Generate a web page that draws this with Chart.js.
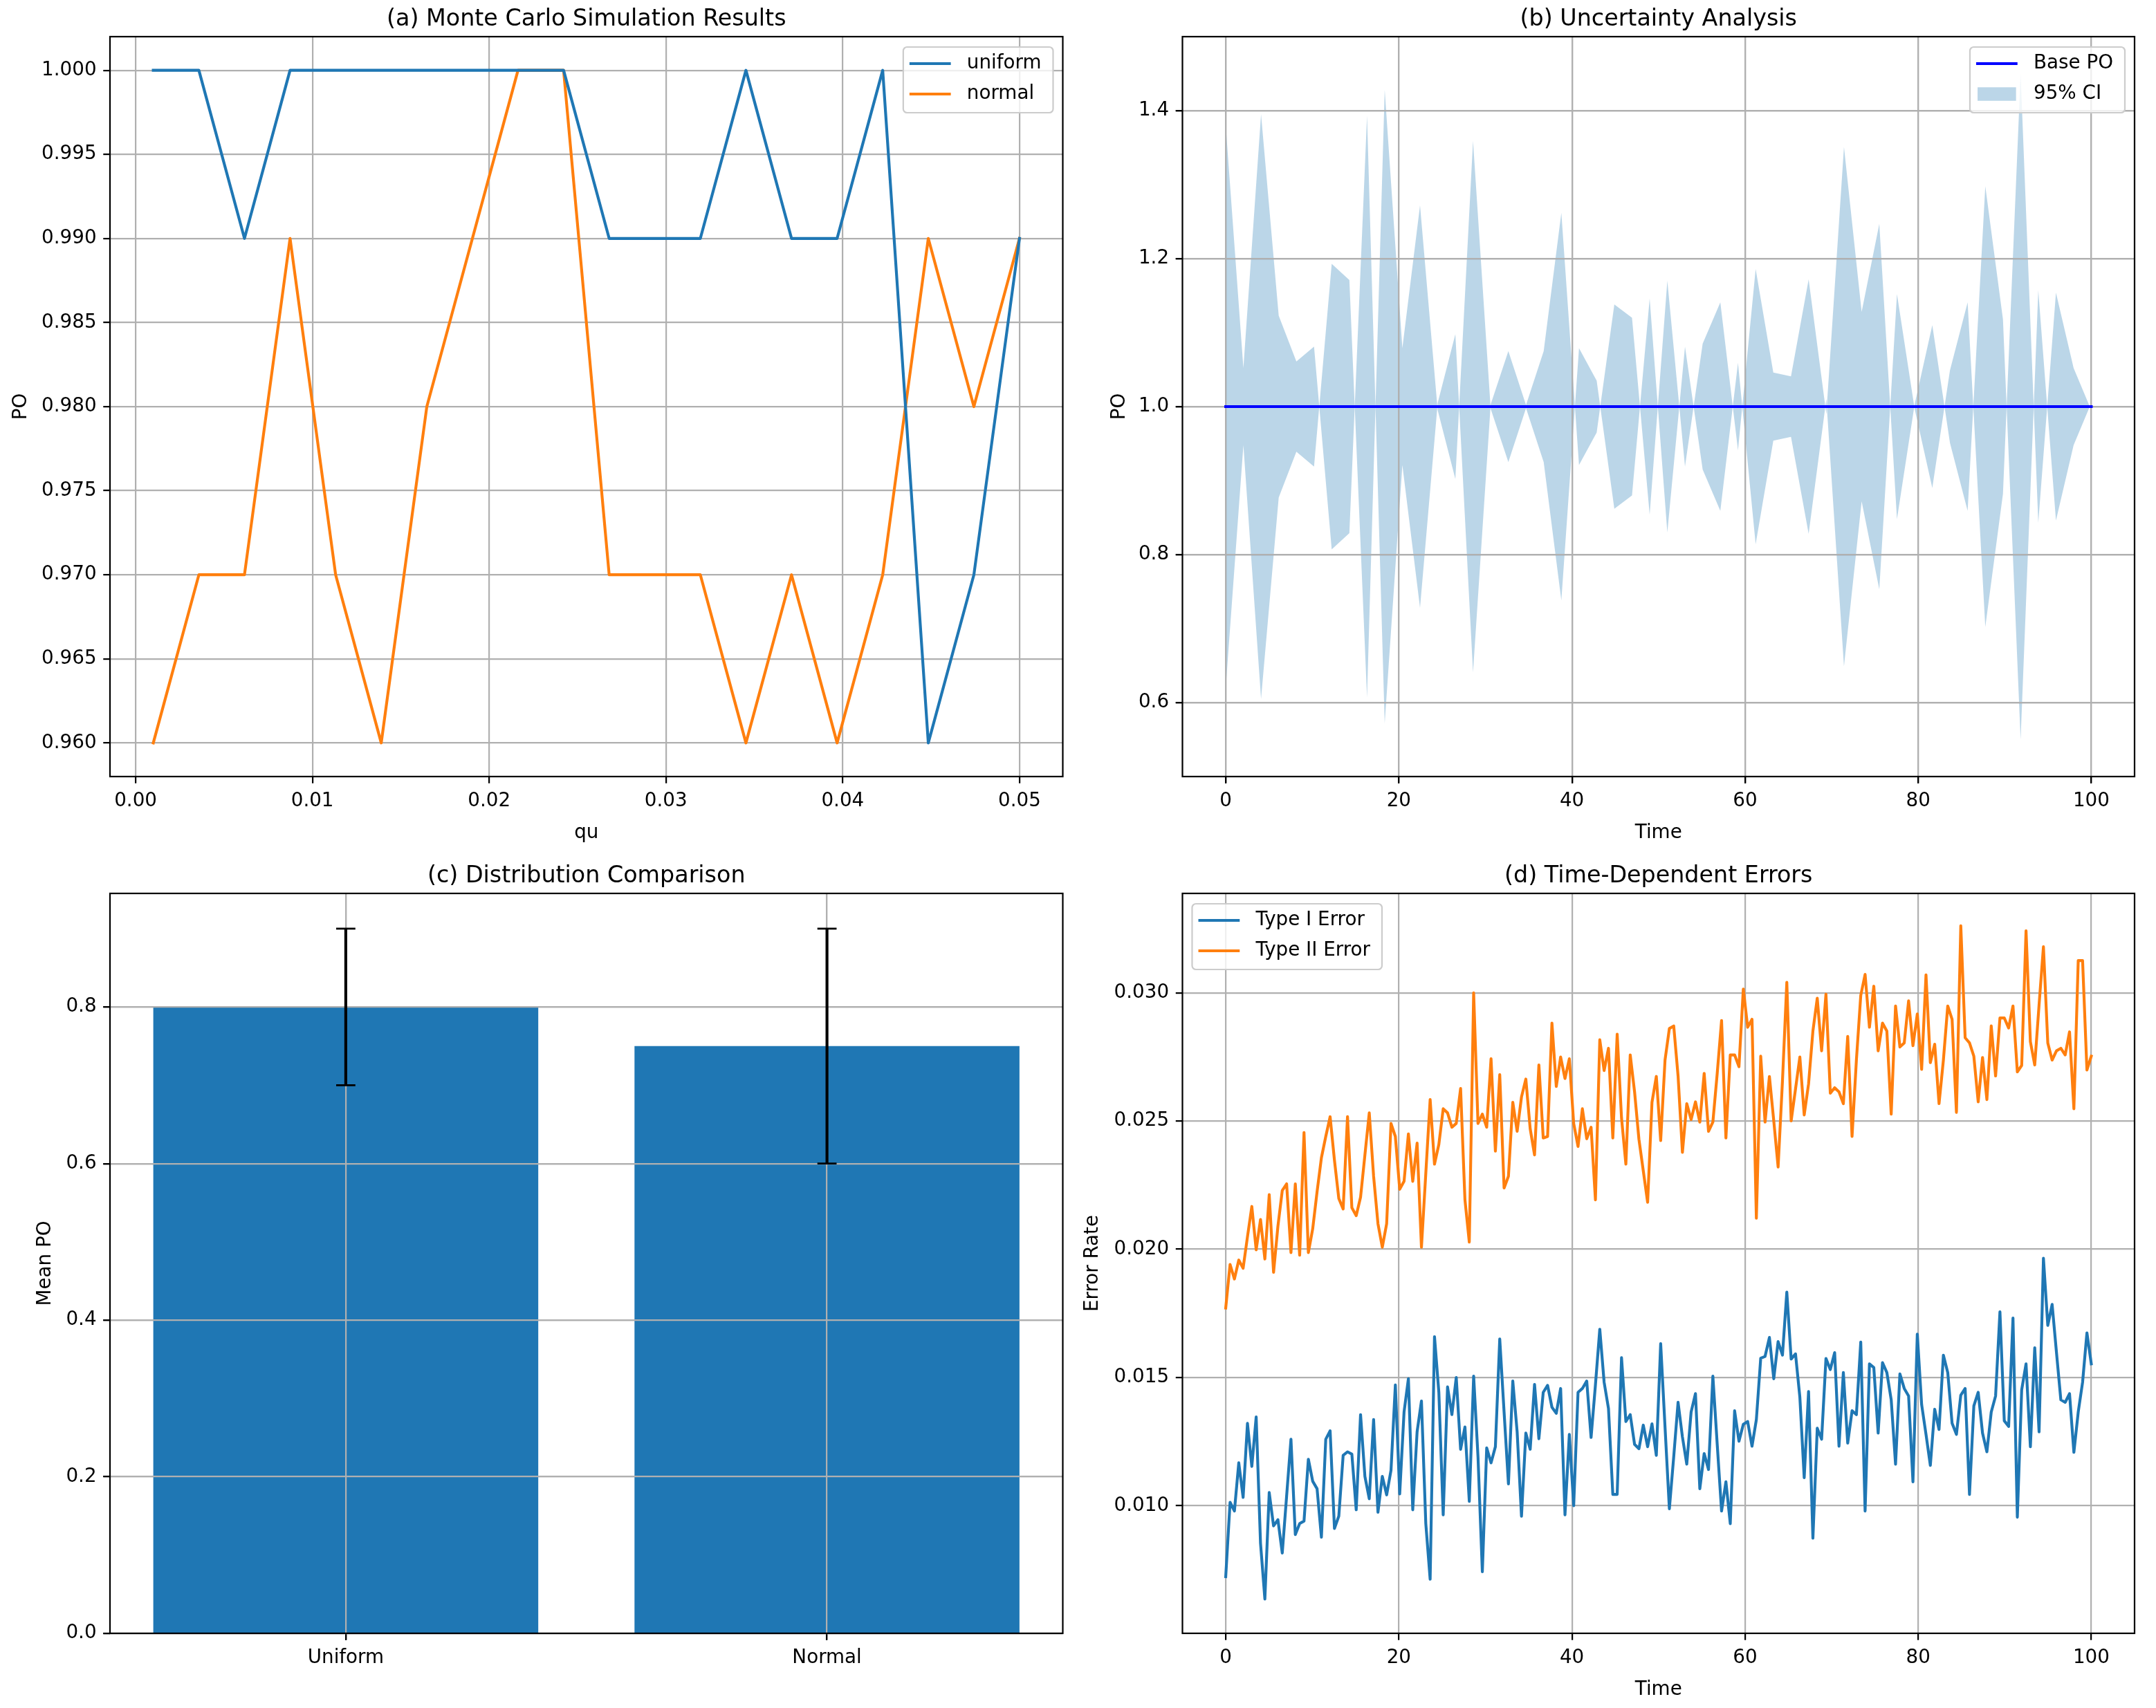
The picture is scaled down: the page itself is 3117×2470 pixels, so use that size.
<!DOCTYPE html>
<html>
<head>
<meta charset="utf-8">
<script src="https://cdn.jsdelivr.net/npm/chart.js@4.4.1/dist/chart.umd.min.js"></script>
<style>
html,body{margin:0;padding:0;background:#fff;}
#fig{position:relative;width:3117px;height:2470px;overflow:hidden;background:#fff;}
canvas{position:absolute;}
</style>
</head>
<body>
<div id="fig">
<canvas id="ca"></canvas>
<canvas id="cb"></canvas>
<canvas id="cc"></canvas>
<canvas id="cd"></canvas>
</div>
<script>
// ---------------- DATA ----------------
// (a) Monte Carlo Simulation Results
const aQu = [0.001, 0.003579, 0.006158, 0.008737, 0.011316, 0.013895, 0.016474, 0.019053, 0.021632, 0.024211,
             0.026789, 0.029368, 0.031947, 0.034526, 0.037105, 0.039684, 0.042263, 0.044842, 0.047421, 0.05];
const aUniform = [1.0, 1.0, 0.99, 1.0, 1.0, 1.0, 1.0, 1.0, 1.0, 1.0, 0.99, 0.99, 0.99, 1.0, 0.99, 0.99, 1.0, 0.96, 0.97, 0.99];
const aNormal  = [0.96, 0.97, 0.97, 0.99, 0.97, 0.96, 0.98, 0.99, 1.0, 1.0, 0.97, 0.97, 0.97, 0.96, 0.97, 0.96, 0.97, 0.99, 0.98, 0.99];
const aXTicks = [0, 0.01, 0.02, 0.03, 0.04, 0.05];
const aXTickLabels = ['0.00', '0.01', '0.02', '0.03', '0.04', '0.05'];
const aYTicks = [0.960, 0.965, 0.970, 0.975, 0.980, 0.985, 0.990, 0.995, 1.000];
const aYTickLabels = ['0.960', '0.965', '0.970', '0.975', '0.980', '0.985', '0.990', '0.995', '1.000'];

// (b) Uncertainty Analysis (50 time points, 0..100)
const bBase = [1.0,1.0,1.0,1.0,1.0,1.0,1.0,1.0,1.0,1.0, 1.0,1.0,1.0,1.0,1.0,1.0,1.0,1.0,1.0,1.0,
               1.0,1.0,1.0,1.0,1.0,1.0,1.0,1.0,1.0,1.0, 1.0,1.0,1.0,1.0,1.0,1.0,1.0,1.0,1.0,1.0,
               1.0,1.0,1.0,1.0,1.0,1.0,1.0,1.0,1.0,1.0];
const bUpper = [1.380,1.052,1.395,1.123,1.061,1.081,0.807,0.829,1.393,0.572,
                0.921,0.728,1.005,1.098,0.641,1.003,1.075,1.002,1.075,1.262,
                0.921,0.965,1.138,1.120,0.854,1.170,0.919,1.085,1.141,0.941,
                1.186,1.046,1.041,1.172,0.990,1.351,1.128,1.247,0.848,1.003,
                1.110,0.951,0.859,1.298,1.118,0.550,1.157,0.846,0.948,1.005];
const bLower = [0.620,0.948,0.605,0.877,0.939,0.919,1.193,1.171,0.607,1.428,
                1.079,1.272,0.995,0.902,1.359,0.997,0.925,0.998,0.925,0.738,
                1.079,1.035,0.862,0.880,1.146,0.830,1.081,0.915,0.859,1.059,
                0.814,0.954,0.959,0.828,1.010,0.649,0.872,0.753,1.152,0.997,
                0.890,1.049,1.141,0.702,0.882,1.450,0.843,1.154,1.052,0.995];
const bXTicks = [0, 20, 40, 60, 80, 100];
const bXTickLabels = ['0', '20', '40', '60', '80', '100'];
const bYTicks = [0.6, 0.8, 1.0, 1.2, 1.4];
const bYTickLabels = ['0.6', '0.8', '1.0', '1.2', '1.4'];

// (c) Distribution Comparison
const cCategories = ['Uniform', 'Normal'];
const cPositions = [0, 1];
const cMeans = [0.80, 0.75];
const cErrors = [0.10, 0.15];
const cYTicks = [0.0, 0.2, 0.4, 0.6, 0.8];
const cYTickLabels = ['0.0', '0.2', '0.4', '0.6', '0.8'];

// (d) Time-Dependent Errors (200 time points, 0..100)
const dType1 = [
 0.00723,0.01013,0.00979,0.01167,0.01032,0.01321,0.01153,0.01346,0.00853,0.00636,
 0.01051,0.00921,0.00945,0.00815,0.01037,0.01259,0.00887,0.00930,0.00940,0.01181,
 0.01095,0.01066,0.00877,0.01259,0.01292,0.00911,0.00959,0.01196,0.01210,0.01201,
 0.00984,0.01355,0.01114,0.01027,0.01336,0.00974,0.01114,0.01042,0.01138,0.01471,
 0.01046,0.01365,0.01495,0.00984,0.01288,0.01408,0.00930,0.00713,0.01659,0.01442,
 0.00964,0.01463,0.01355,0.01500,0.01220,0.01307,0.01017,0.01505,0.01191,0.00742,
 0.01225,0.01167,0.01230,0.01650,0.01365,0.01085,0.01486,0.01288,0.00959,0.01283,
 0.01220,0.01473,0.01261,0.01442,0.01469,0.01384,0.01360,0.01457,0.00964,0.01278,
 0.01000,0.01442,0.01457,0.01486,0.01266,0.01471,0.01688,0.01481,0.01379,0.01044,
 0.01044,0.01577,0.01328,0.01355,0.01239,0.01222,0.01314,0.01230,0.01319,0.01196,
 0.01632,0.01307,0.00988,0.01191,0.01403,0.01268,0.01162,0.01365,0.01437,0.01066,
 0.01203,0.01141,0.01505,0.01239,0.00979,0.01093,0.00930,0.01370,0.01251,0.01317,
 0.01328,0.01232,0.01336,0.01575,0.01582,0.01656,0.01495,0.01640,0.01587,0.01833,
 0.01572,0.01592,0.01423,0.01109,0.01445,0.00873,0.01302,0.01259,0.01574,0.01531,
 0.01597,0.01232,0.01519,0.01244,0.01370,0.01355,0.01638,0.00979,0.01553,0.01539,
 0.01283,0.01558,0.01519,0.01413,0.01162,0.01514,0.01457,0.01428,0.01093,0.01669,
 0.01394,0.01278,0.01157,0.01376,0.01297,0.01587,0.01519,0.01321,0.01278,0.01431,
 0.01457,0.01044,0.01389,0.01442,0.01283,0.01210,0.01365,0.01428,0.01756,0.01331,
 0.01309,0.01732,0.00955,0.01452,0.01553,0.01230,0.01616,0.01288,0.01965,0.01703,
 0.01785,0.01597,0.01413,0.01403,0.01437,0.01208,0.01365,0.01481,0.01674,0.01553];
const dType2 = [
 0.01771,0.01941,0.01884,0.01958,0.01926,0.02049,0.02167,0.01998,0.02116,0.01962,
 0.02213,0.01910,0.02090,0.02229,0.02255,0.01987,0.02255,0.01977,0.02455,0.01987,
 0.02080,0.02224,0.02357,0.02440,0.02517,0.02347,0.02198,0.02157,0.02517,0.02162,
 0.02131,0.02203,0.02368,0.02532,0.02285,0.02100,0.02008,0.02100,0.02491,0.02440,
 0.02234,0.02265,0.02450,0.02265,0.02414,0.02008,0.02296,0.02584,0.02332,0.02409,
 0.02548,0.02532,0.02476,0.02491,0.02627,0.02193,0.02028,0.03000,0.02491,0.02527,
 0.02476,0.02743,0.02383,0.02681,0.02239,0.02285,0.02573,0.02460,0.02594,0.02664,
 0.02470,0.02368,0.02719,0.02434,0.02440,0.02882,0.02635,0.02750,0.02666,0.02743,
 0.02491,0.02401,0.02548,0.02431,0.02476,0.02193,0.02817,0.02697,0.02784,0.02434,
 0.02839,0.02512,0.02332,0.02758,0.02614,0.02429,0.02306,0.02183,0.02573,0.02674,
 0.02424,0.02738,0.02861,0.02871,0.02676,0.02378,0.02568,0.02506,0.02575,0.02496,
 0.02686,0.02460,0.02496,0.02686,0.02892,0.02434,0.02758,0.02758,0.02712,0.03015,
 0.02866,0.02897,0.02121,0.02753,0.02496,0.02674,0.02501,0.02321,0.02656,0.03041,
 0.02501,0.02625,0.02750,0.02524,0.02645,0.02851,0.02979,0.02774,0.02995,0.02609,
 0.02630,0.02614,0.02568,0.02830,0.02440,0.02738,0.02990,0.03072,0.02866,0.03026,
 0.02774,0.02882,0.02851,0.02527,0.02949,0.02789,0.02805,0.02969,0.02794,0.02918,
 0.02702,0.03070,0.02728,0.02800,0.02568,0.02738,0.02949,0.02897,0.02534,0.03262,
 0.02825,0.02805,0.02753,0.02575,0.02748,0.02584,0.02871,0.02676,0.02902,0.02902,
 0.02863,0.02949,0.02692,0.02717,0.03242,0.02810,0.02719,0.02954,0.03180,0.02805,
 0.02738,0.02774,0.02784,0.02758,0.02848,0.02548,0.03126,0.03126,0.02699,0.02753];
const dXTicks = [0, 20, 40, 60, 80, 100];
const dXTickLabels = ['0', '20', '40', '60', '80', '100'];
const dYTicks = [0.010, 0.015, 0.020, 0.025, 0.030];
const dYTickLabels = ['0.010', '0.015', '0.020', '0.025', '0.030'];

// time axes (evenly spaced sample grid, like np.linspace)
function linspace(a, b, n) { const out = []; for (let i = 0; i < n; i++) out.push(a + (b - a) * i / (n - 1)); return out; }
const tB = linspace(0, 100, bUpper.length);
const tD = linspace(0, 100, dType1.length);

// ---------------- STYLE ----------------
const C0 = '#1f77b4', C1 = '#ff7f0e';
const FONT = 'DejaVu Sans';
const PT = 200 / 72;
const FS = 10 * PT, TFS = 12 * PT;

Chart.defaults.font.family = FONT;
Chart.defaults.font.size = FS;
Chart.defaults.color = '#000';
Chart.defaults.animation = false;

function pickLabel(vals, labels) {
  return function (value) {
    for (let i = 0; i < vals.length; i++) if (Math.abs(vals[i] - value) < 1e-9) return labels[i];
    return '';
  };
}

function scaleOpts(o) {
  const s = {
    type: 'linear', min: o.min, max: o.max, bounds: 'data', offset: false,
    afterBuildTicks: (sc) => { sc.ticks = o.tickVals.map(v => ({ value: v })); },
    afterFit: (sc) => { if (o.horizontal) sc.height = o.size; else sc.width = o.size; },
    grid: { color: '#b0b0b0', lineWidth: 0.8 * PT, offset: false, drawTicks: true, tickLength: 3.5 * PT, tickColor: '#000', tickWidth: 0.8 * PT },
    border: { display: false },
    ticks: { color: '#000', font: { family: FONT, size: FS, lineHeight: 1.2 }, padding: 3.5 * PT, autoSkip: false, maxRotation: 0, minRotation: 0, callback: pickLabel(o.tickVals, o.tickLabels) }
  };
  if (o.title) {
    s.title = { display: true, text: o.title, color: '#000', font: { family: FONT, size: FS, lineHeight: '33.4px' },
      padding: o.horizontal ? { top: 0, bottom: o.titlePad } : { top: o.titlePad, bottom: 0 } };
  }
  return s;
}

function titleOpts(text) {
  return { display: true, text: text, color: '#000', fullSize: false,
    font: { family: FONT, size: TFS, weight: 'normal', lineHeight: '47.6px' }, padding: { top: 4.5, bottom: 0.9 } };
}

function roundRectPath(ctx, x, y, w, h, r) {
  ctx.beginPath();
  ctx.moveTo(x + r, y);
  ctx.lineTo(x + w - r, y); ctx.arcTo(x + w, y, x + w, y + r, r);
  ctx.lineTo(x + w, y + h - r); ctx.arcTo(x + w, y + h, x + w - r, y + h, r);
  ctx.lineTo(x + r, y + h); ctx.arcTo(x, y + h, x, y + h - r, r);
  ctx.lineTo(x, y + r); ctx.arcTo(x, y, x + r, y, r);
  ctx.closePath();
}

function drawLegend(chart, items, corner) {
  const ctx = chart.ctx, a = chart.chartArea;
  ctx.save();
  ctx.font = FS + 'px "' + FONT + '"';
  let tw = 0;
  items.forEach(it => { tw = Math.max(tw, ctx.measureText(it.label).width); });
  const w = 92 + tw + 17, h = 95;
  const x = corner === 'left' ? a.left + 14 : a.right - 14 - w;
  const y = a.top + 15;
  roundRectPath(ctx, x, y, w, h, 0.2 * FS);
  ctx.fillStyle = 'rgba(255,255,255,0.8)';
  ctx.fill();
  ctx.strokeStyle = '#cccccc';
  ctx.lineWidth = 1.0 * PT * 0.8;
  ctx.stroke();
  items.forEach((it, k) => {
    const cy = y + 24 + 44 * k;
    if (it.type === 'patch') {
      ctx.fillStyle = it.color;
      ctx.fillRect(x + 11.1, cy - 9.75, 55.6, 19.5);
    } else {
      ctx.strokeStyle = it.color; ctx.lineWidth = it.lw; ctx.lineCap = 'square';
      ctx.beginPath(); ctx.moveTo(x + 11.1, cy); ctx.lineTo(x + 66.7, cy); ctx.stroke();
    }
    ctx.fillStyle = '#000'; ctx.textBaseline = 'middle'; ctx.textAlign = 'left';
    ctx.fillText(it.label, x + 92, cy);
  });
  ctx.restore();
}

function framePlugin(cfg) {
  return {
    id: 'frame',
    afterDatasetDraw(chart, args) {
      if (cfg.gridAfter === args.index) {
        chart.scales.x.drawGrid(chart.chartArea);
        chart.scales.y.drawGrid(chart.chartArea);
      }
    },
    afterDatasetsDraw(chart) {
      if (cfg.extra) cfg.extra(chart);
      const ctx = chart.ctx, a = chart.chartArea;
      ctx.save(); ctx.strokeStyle = '#000'; ctx.lineWidth = 0.8 * PT;
      ctx.strokeRect(a.left, a.top, a.right - a.left, a.bottom - a.top);
      ctx.restore();
      if (cfg.legend) drawLegend(chart, cfg.legend(chart), cfg.corner);
    }
  };
}

function placeCanvas(id, left, top, w, h) {
  const c = document.getElementById(id);
  c.width = w; c.height = h;
  c.style.left = left + 'px'; c.style.top = top + 'px';
  c.style.width = w + 'px'; c.style.height = h + 'px';
  return c;
}

function pts(xs, ys) { return xs.map((x, i) => ({ x: x, y: ys[i] })); }

const LW = 1.5 * PT;
const baseOpts = (pad) => ({
  responsive: false, maintainAspectRatio: false, devicePixelRatio: 1, animation: false,
  layout: { padding: { left: 0, top: 0, bottom: 0, right: pad } },
  events: []
});
const lineDs = (label, data, color, lw) => ({ label, data, borderColor: color, borderWidth: lw, pointRadius: 0,
  fill: false, tension: 0, borderJoinStyle: 'round', borderCapStyle: 'square' });
const legendFromDatasets = (chart) => chart.data.datasets.filter(d => d.label).map(d => (
  d.fill && d.fill !== false ? { label: d.label, type: 'patch', color: d.backgroundColor } :
  { label: d.label, type: 'line', color: d.borderColor, lw: d.borderWidth }));

// ---------------- (a) ----------------
new Chart(placeCanvas('ca', 0, 0, 1600, 1260), {
  type: 'line',
  data: { datasets: [ lineDs('uniform', pts(aQu, aUniform), C0, LW), lineDs('normal', pts(aQu, aNormal), C1, LW) ] },
  options: Object.assign(baseOpts(63.5), {
    plugins: { legend: { display: false }, tooltip: { enabled: false }, title: titleOpts('(a) Monte Carlo Simulation Results') },
    scales: {
      x: scaleOpts({ min: -0.00145, max: 0.05245, tickVals: aXTicks, tickLabels: aXTickLabels, horizontal: true, size: 137, title: 'qu', titlePad: 38.3 }),
      y: scaleOpts({ min: 0.958, max: 1.002, tickVals: aYTicks, tickLabels: aYTickLabels, horizontal: false, size: 159, title: 'PO', titlePad: 14 })
    }
  }),
  plugins: [ framePlugin({ legend: legendFromDatasets, corner: 'right' }) ]
});

// ---------------- (b) ----------------
new Chart(placeCanvas('cb', 1560, 0, 1557, 1260), {
  type: 'line',
  data: { datasets: [
    Object.assign(lineDs('Base PO', pts(tB, bBase), '#0000ff', LW), { order: 0 }),
    { label: '95% CI', data: pts(tB, bUpper), borderColor: 'rgba(0,0,0,0)', borderWidth: 0.01, pointRadius: 0, tension: 0,
      backgroundColor: 'rgba(31,119,180,0.3)', fill: { target: 2 }, order: 1 },
    { label: '', data: pts(tB, bLower), borderColor: 'rgba(0,0,0,0)', borderWidth: 0.01, pointRadius: 0, tension: 0, fill: false, order: 2 }
  ] },
  options: Object.assign(baseOpts(31), {
    plugins: { legend: { display: false }, tooltip: { enabled: false }, title: titleOpts('(b) Uncertainty Analysis') },
    scales: {
      x: scaleOpts({ min: -5, max: 105, tickVals: bXTicks, tickLabels: bXTickLabels, horizontal: true, size: 137, title: 'Time', titlePad: 38.3 }),
      y: scaleOpts({ min: 0.5, max: 1.5, tickVals: bYTicks, tickLabels: bYTickLabels, horizontal: false, size: 149.5, title: 'PO', titlePad: 42.3 })
    }
  }),
  plugins: [ framePlugin({ gridAfter: 1, legend: legendFromDatasets, corner: 'right' }) ]
});

// ---------------- (c) ----------------
new Chart(placeCanvas('cc', 0, 1239, 1600, 1231), {
  type: 'bar',
  data: { datasets: [ { label: 'Mean PO', data: pts(cPositions, cMeans), backgroundColor: C0, borderWidth: 0,
    barPercentage: 0.8, categoryPercentage: 1.0 } ] },
  options: Object.assign(baseOpts(63.5), {
    plugins: { legend: { display: false }, tooltip: { enabled: false }, title: titleOpts('(c) Distribution Comparison') },
    scales: {
      x: scaleOpts({ min: -0.49, max: 1.49, tickVals: cPositions, tickLabels: cCategories, horizontal: true, size: 108 }),
      y: scaleOpts({ min: 0, max: 0.945, tickVals: cYTicks, tickLabels: cYTickLabels, horizontal: false, size: 159, title: 'Mean PO', titlePad: 49 })
    }
  }),
  plugins: [ framePlugin({ gridAfter: 0, extra: (chart) => {
    const ctx = chart.ctx, xs = chart.scales.x, ys = chart.scales.y;
    ctx.save(); ctx.strokeStyle = '#000';
    cPositions.forEach((p, i) => {
      const px = xs.getPixelForValue(p);
      const y1 = ys.getPixelForValue(cMeans[i] + cErrors[i]);
      const y2 = ys.getPixelForValue(cMeans[i] - cErrors[i]);
      ctx.lineWidth = 1.5 * PT; ctx.lineCap = 'butt';
      ctx.beginPath(); ctx.moveTo(px, y1); ctx.lineTo(px, y2); ctx.stroke();
      ctx.lineWidth = 1.0 * PT;
      [y1, y2].forEach(y => { ctx.beginPath(); ctx.moveTo(px - 5 * PT, y); ctx.lineTo(px + 5 * PT, y); ctx.stroke(); });
    });
    ctx.restore();
  } }) ]
});

// ---------------- (d) ----------------
new Chart(placeCanvas('cd', 1560, 1239, 1557, 1231), {
  type: 'line',
  data: { datasets: [ lineDs('Type I Error', pts(tD, dType1), C0, LW), lineDs('Type II Error', pts(tD, dType2), C1, LW) ] },
  options: Object.assign(baseOpts(31), {
    plugins: { legend: { display: false }, tooltip: { enabled: false }, title: titleOpts('(d) Time-Dependent Errors') },
    scales: {
      x: scaleOpts({ min: -5, max: 105, tickVals: dXTicks, tickLabels: dXTickLabels, horizontal: true, size: 108, title: 'Time', titlePad: 9.3 }),
      y: scaleOpts({ min: 0.00502, max: 0.03388, tickVals: dYTicks, tickLabels: dYTickLabels, horizontal: false, size: 149.5, title: 'Error Rate', titlePad: 3.3 })
    }
  }),
  plugins: [ framePlugin({ legend: legendFromDatasets, corner: 'left' }) ]
});
</script>
</body>
</html>
